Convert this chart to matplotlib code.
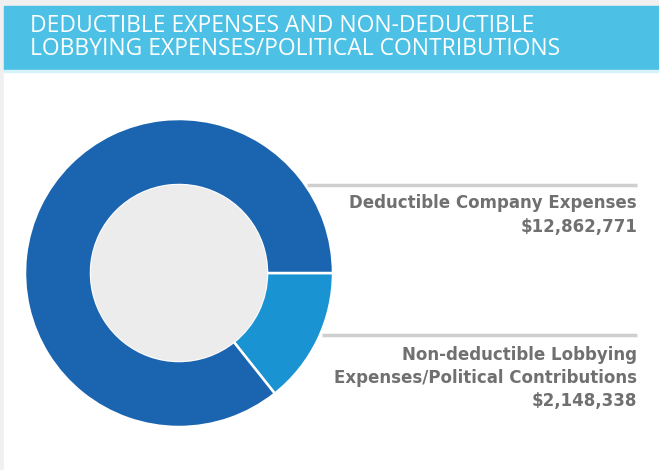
import matplotlib
matplotlib.use("Agg")
import matplotlib.pyplot as plt
from matplotlib.patches import Rectangle, Circle

# Data
categories = ["Non-deductible Lobbying\nExpenses/Political Contributions",
              "Deductible Company Expenses"]
values = [2148338, 12862771]
value_labels = ["$2,148,338", "$12,862,771"]
colors = ["#1a93d2", "#1b64b0"]
title = "DEDUCTIBLE EXPENSES AND NON-DEDUCTIBLE\nLOBBYING EXPENSES/POLITICAL CONTRIBUTIONS"

W, H = 659, 470
fig = plt.figure(figsize=(W / 100, H / 100), dpi=100, facecolor="#f0f0f0")
ax = fig.add_axes([0, 0, 1, 1])
ax.set_facecolor("#f0f0f0")

# white panel and title banner (pixel coordinates, y from bottom)
ax.add_patch(Rectangle((4, 0), W - 4, H - 70, color="white", zorder=0))
ax.add_patch(Rectangle((4, H - 70), W - 4, 64, color="#4cc1e5", zorder=1))
ax.add_patch(Rectangle((4, H - 72), W - 4, 2, color="#d6f2fa", zorder=1))
ax.text(30, H - 26, title.split("\n")[0], color="white", fontsize=16.5,
        family="Open Sans", va="center", ha="left", zorder=2)
ax.text(30, H - 49, title.split("\n")[1], color="white", fontsize=16.5,
        family="Open Sans", va="center", ha="left", zorder=2)

# donut
cx, cy, r, r_in = 179, H - 273, 154, 88
ax.pie(values, colors=colors, startangle=0, counterclock=False,
       center=(cx, cy), radius=r, frame=True,
       wedgeprops=dict(width=r - r_in, edgecolor="white", linewidth=1.8))
ax.add_patch(Circle((cx, cy), r_in - 0.5, color="#ececec", zorder=5))

# separator rules and labels
gray = "#707070"
ax.plot([307, 637], [H - 185, H - 185], color="#cfcfcf", lw=2.5,
        solid_capstyle="butt")
ax.plot([322, 637], [H - 335, H - 335], color="#cfcfcf", lw=2.5,
        solid_capstyle="butt")
font = dict(family="DejaVu Sans", fontsize=12, color=gray, ha="right",
            va="center", fontweight="bold")
label_rows = [
    (categories[1].split("\n") + [value_labels[1]], [203, 227]),
    (categories[0].split("\n") + [value_labels[0]], [355, 378, 401]),
]
for lines, ys in label_rows:
    for line, y in zip(lines, ys):
        ax.text(637, H - y, line, **font)

ax.set_xlim(0, W)
ax.set_ylim(0, H)
ax.set_aspect("auto")
ax.axis("off")
fig.savefig("out.png", dpi=100, facecolor=fig.get_facecolor())
